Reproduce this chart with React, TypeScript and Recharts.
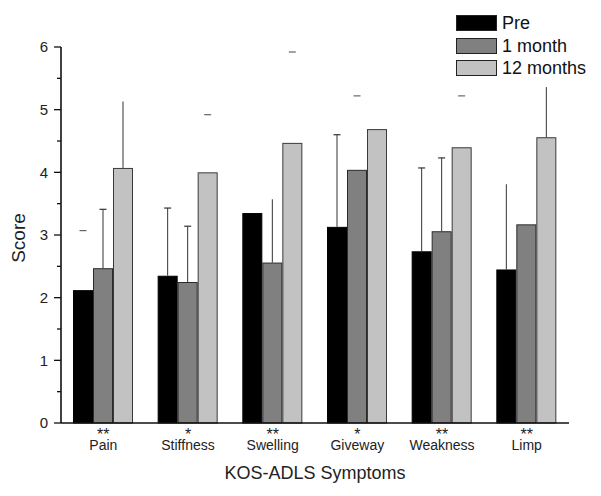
import React from 'react';
import { BarChart, Bar, XAxis, YAxis, Legend, Label } from "recharts"

const categories = ["Pain", "Stiffness", "Swelling", "Giveway", "Weakness", "Limp"]
const significance = ["**", "*", "**", "*", "**", "**"]

const pre = [2.12, 2.35, 3.35, 3.13, 2.74, 2.45]
const oneMonth = [2.47, 2.25, 2.56, 4.04, 3.06, 3.17]
const twelveMonths = [4.07, 4.0, 4.47, 4.69, 4.4, 4.56]

// upper standard deviations (null = not drawn)
const preSd = [0.95, 1.08, null, 1.47, 1.33, 1.36]
const oneMonthSd = [0.94, 0.89, 1.01, 1.18, 1.17, null]
const twelveMonthsSd = [1.06, 0.92, 1.45, null, 0.82, 0.8]

// how each error bar shows up in the figure: whisker+cap, whisker only, cap only
const preErrStyle = ["cap", "both", null, "both", "both", "line"]
const oneMonthErrStyle = ["both", "both", "line", "cap", "both", null]
const twelveMonthsErrStyle = ["line", "cap", "cap", null, "cap", "line"]

const seriesNames = ["Pre", "1 month", "12 months"]
const seriesColors = ["#000000", "#808080", "#c2c2c2"]

const yTicks = [0, 0.5, 1, 1.5, 2, 2.5, 3, 3.5, 4, 4.5, 5, 5.5, 6]

const data = categories.map((name, i) => ({
  name,
  sig: significance[i],
  pre: pre[i],
  oneMonth: oneMonth[i],
  twelveMonths: twelveMonths[i],
  preSd: preSd[i],
  oneMonthSd: oneMonthSd[i],
  twelveMonthsSd: twelveMonthsSd[i],
  preErr: preErrStyle[i],
  oneMonthErr: oneMonthErrStyle[i],
  twelveMonthsErr: twelveMonthsErrStyle[i],
}))

const font = "Arial, 'Liberation Sans', sans-serif"

function makeBarShape(valueKey: string, sdKey: string, styleKey: string, stroke: string) {
  return (props: any) => {
    const { x, y, width, height, fill, payload } = props
    const value = payload[valueKey]
    const sd = payload[sdKey]
    const style = payload[styleKey]
    const pxPerUnit = value ? height / value : 0
    const cx = x + width / 2
    const yTop = y - (sd || 0) * pxPerUnit
    return (
      <g>
        <rect x={x + 0.5} y={y + 0.5} width={width - 1} height={height - 0.5} fill={fill} stroke={stroke} strokeWidth={1} />
        {sd != null && (style === "line" || style === "both") && (
          <line x1={cx} x2={cx} y1={y} y2={yTop} stroke="#333" strokeWidth={1} />
        )}
        {sd != null && (style === "cap" || style === "both") && (
          <line x1={cx - 3.5} x2={cx + 3.5} y1={yTop} y2={yTop} stroke={style === "cap" ? "#666" : "#333"} strokeWidth={1.2} />
        )}
      </g>
    )
  }
}

function YTick(props: any) {
  const { x, y, payload } = props
  const major = Number.isInteger(payload.value)
  return (
    <g>
      <line x1={x - (major ? 7 : 4)} x2={x} y1={y} y2={y} stroke="#111" strokeWidth={1.3} />
      {major && (
        <text x={x - 13} y={y} dy="0.36em" textAnchor="end" fontSize={15} fontFamily={font} fill="#222">
          {payload.value}
        </text>
      )}
    </g>
  )
}

// significance stars above the category name
function XTick(props: any) {
  const { x, y, payload, index } = props
  return (
    <g>
      <text x={x} y={y + 17} textAnchor="middle" fontSize={16} fontFamily={font} fill="#222">
        {data[index] ? data[index].sig : ""}
      </text>
      <text x={x} y={y + 27} textAnchor="middle" fontSize={14} fontFamily={font} fill="#222">
        {payload.value}
      </text>
    </g>
  )
}

function LegendBox() {
  return (
    <div style={{ fontFamily: font, fontSize: 18, color: "#111" }}>
      {seriesNames.map((name, i) => (
        <div key={name} style={{ display: "flex", alignItems: "center", height: 22.5 }}>
          <div
            style={{
              width: 41,
              height: 16,
              background: seriesColors[i],
              border: "1px solid #222",
              marginRight: 5,
              boxSizing: "border-box",
            }}
          />
          <span style={{ lineHeight: "18px" }}>{name}</span>
        </div>
      ))}
    </div>
  )
}

export default function App() {
  return (
    <div style={{ position: "absolute", left: 0, top: 0, width: 601, height: 496, background: "#fff" }}>
      <BarChart
        width={601}
        height={496}
        data={data}
        barSize={20}
        barGap={0}
        margin={{ top: 47, right: 32, left: 0, bottom: 23 }}
      >
        <XAxis
          dataKey="name"
          tickLine={false}
          tickSize={0}
          tickMargin={0}
          height={50}
          interval={0}
          axisLine={{ stroke: "#111", strokeWidth: 1.6 }}
          tick={<XTick />}
        >
          <Label
            content={(p: any) => {
              const vb = p.viewBox
              return (
                <text x={vb.x + vb.width / 2} y={479} textAnchor="middle" fontSize={18} fontFamily={font} fill="#222">
                  KOS-ADLS Symptoms
                </text>
              )
            }}
          />
        </XAxis>
        <YAxis
          type="number"
          domain={[0, 6]}
          ticks={yTicks}
          interval={0}
          width={61}
          tickLine={false}
          tickSize={0}
          tickMargin={0}
          axisLine={{ stroke: "#111", strokeWidth: 1.6 }}
          tick={<YTick />}
        >
          <Label
            content={() => (
              <text
                x={25}
                y={238}
                transform="rotate(-90 25 238)"
                textAnchor="middle"
                fontSize={19}
                fontFamily={font}
                fill="#222"
              >
                Score
              </text>
            )}
          />
        </YAxis>
        <Legend
          layout="vertical"
          align="center"
          verticalAlign="middle"
          wrapperStyle={{ left: 456, top: 12, width: 150, height: 70 }}
          content={<LegendBox />}
        />
        <Bar dataKey="pre" name={seriesNames[0]} fill={seriesColors[0]} isAnimationActive={false}
          shape={makeBarShape("pre", "preSd", "preErr", "#000")} />
        <Bar dataKey="oneMonth" name={seriesNames[1]} fill={seriesColors[1]} isAnimationActive={false}
          shape={makeBarShape("oneMonth", "oneMonthSd", "oneMonthErr", "#2a2a2a")} />
        <Bar dataKey="twelveMonths" name={seriesNames[2]} fill={seriesColors[2]} isAnimationActive={false}
          shape={makeBarShape("twelveMonths", "twelveMonthsSd", "twelveMonthsErr", "#3a3a3a")} />
      </BarChart>
    </div>
  )
}
